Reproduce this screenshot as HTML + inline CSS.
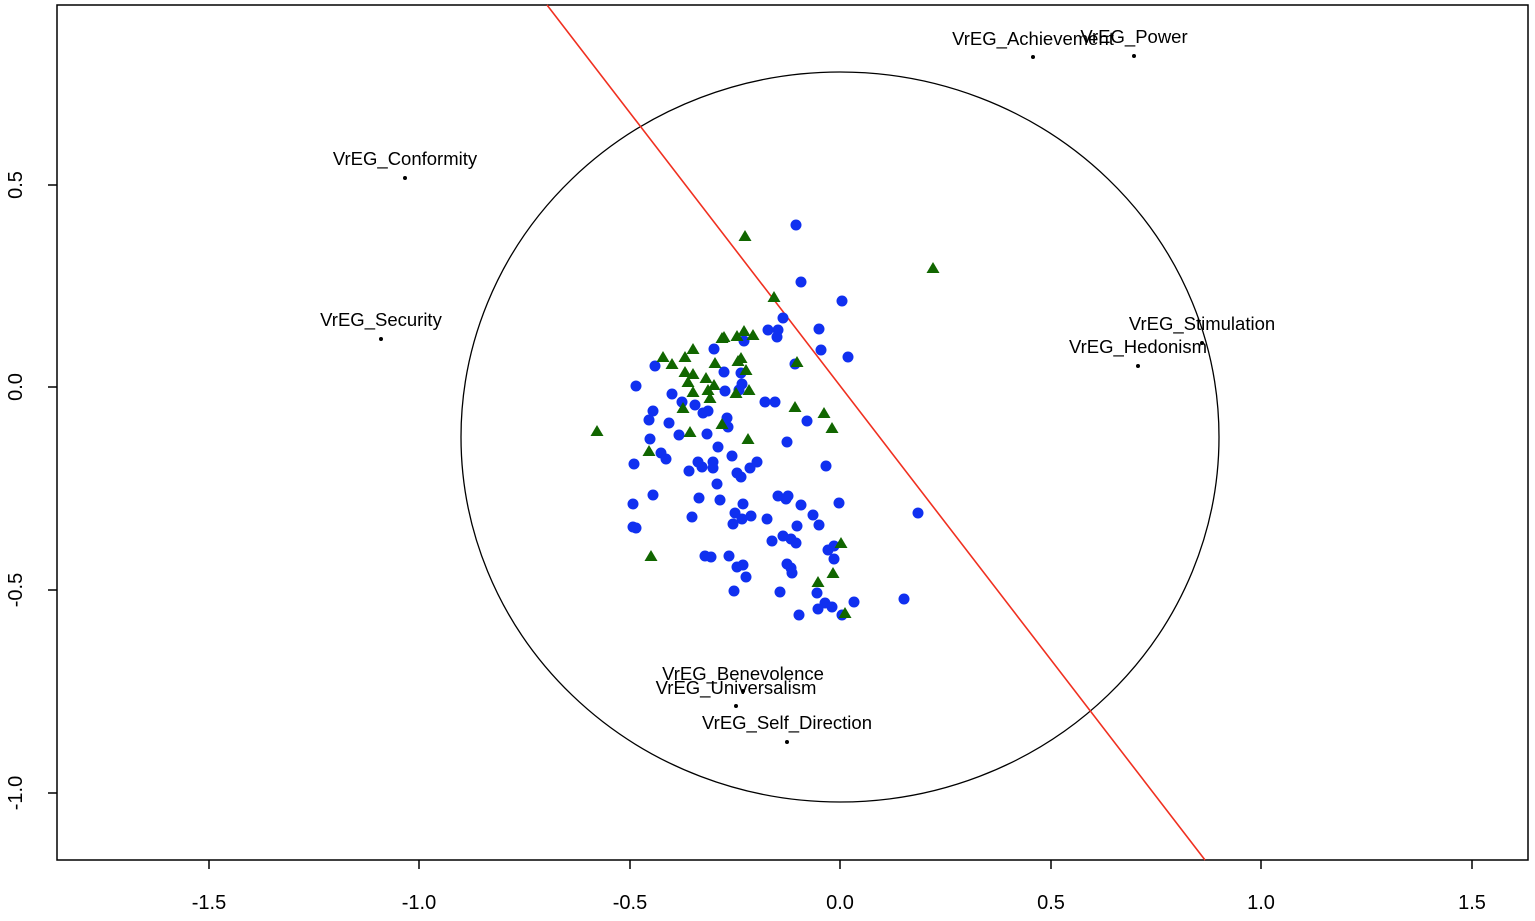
<!DOCTYPE html>
<html><head><meta charset="utf-8"><style>body{margin:0;background:#fff}</style></head><body>
<svg width="1535" height="916" xmlns="http://www.w3.org/2000/svg" font-family="Liberation Sans, sans-serif">
<rect x="0" y="0" width="1535" height="916" fill="#fff"/>
<rect x="57" y="5" width="1471" height="855" fill="none" stroke="#000" stroke-width="1.5"/>
<g stroke="#000" stroke-width="1.5">
<line x1="209" y1="860" x2="209" y2="869"/><line x1="419" y1="860" x2="419" y2="869"/><line x1="630" y1="860" x2="630" y2="869"/><line x1="840" y1="860" x2="840" y2="869"/><line x1="1051" y1="860" x2="1051" y2="869"/><line x1="1261" y1="860" x2="1261" y2="869"/><line x1="1472" y1="860" x2="1472" y2="869"/>
<line x1="48" y1="185" x2="57" y2="185"/><line x1="48" y1="387" x2="57" y2="387"/><line x1="48" y1="590" x2="57" y2="590"/><line x1="48" y1="793" x2="57" y2="793"/>
</g>
<g font-size="20" text-anchor="middle" fill="#000">
<text x="209" y="909">-1.5</text><text x="419" y="909">-1.0</text><text x="630" y="909">-0.5</text><text x="840" y="909">0.0</text><text x="1051" y="909">0.5</text><text x="1261" y="909">1.0</text><text x="1472" y="909">1.5</text>
<text transform="translate(22,185) rotate(-90)">0.5</text><text transform="translate(22,387) rotate(-90)">0.0</text><text transform="translate(22,590) rotate(-90)">-0.5</text><text transform="translate(22,793) rotate(-90)">-1.0</text>
</g>
<ellipse cx="840" cy="437" rx="379" ry="365" fill="none" stroke="#000" stroke-width="1.3"/>
<line x1="547" y1="5" x2="1205" y2="860" stroke="#f03020" stroke-width="1.6"/>
<g fill="#1030f0">
<circle cx="796" cy="225" r="5.5"/><circle cx="801" cy="282" r="5.5"/><circle cx="842" cy="301" r="5.5"/><circle cx="783" cy="318" r="5.5"/><circle cx="768" cy="330" r="5.5"/><circle cx="778" cy="330" r="5.5"/><circle cx="777" cy="337" r="5.5"/><circle cx="819" cy="329" r="5.5"/><circle cx="821" cy="350" r="5.5"/><circle cx="848" cy="357" r="5.5"/><circle cx="714" cy="349" r="5.5"/><circle cx="744" cy="341" r="5.5"/><circle cx="795" cy="364" r="5.5"/><circle cx="655" cy="366" r="5.5"/><circle cx="636" cy="386" r="5.5"/><circle cx="672" cy="394" r="5.5"/><circle cx="724" cy="372" r="5.5"/><circle cx="741" cy="373" r="5.5"/><circle cx="742" cy="384" r="5.5"/><circle cx="739" cy="390" r="5.5"/><circle cx="725" cy="391" r="5.5"/><circle cx="765" cy="402" r="5.5"/><circle cx="775" cy="402" r="5.5"/><circle cx="682" cy="402" r="5.5"/>
<circle cx="653" cy="411" r="5.5"/><circle cx="649" cy="420" r="5.5"/><circle cx="669" cy="423" r="5.5"/><circle cx="679" cy="435" r="5.5"/><circle cx="707" cy="434" r="5.5"/><circle cx="695" cy="405" r="5.5"/><circle cx="703" cy="413" r="5.5"/><circle cx="708" cy="411" r="5.5"/><circle cx="727" cy="418" r="5.5"/><circle cx="728" cy="427" r="5.5"/><circle cx="650" cy="439" r="5.5"/><circle cx="718" cy="447" r="5.5"/><circle cx="787" cy="442" r="5.5"/><circle cx="807" cy="421" r="5.5"/><circle cx="661" cy="453" r="5.5"/><circle cx="666" cy="459" r="5.5"/><circle cx="634" cy="464" r="5.5"/><circle cx="698" cy="462" r="5.5"/><circle cx="702" cy="467" r="5.5"/><circle cx="713" cy="462" r="5.5"/><circle cx="713" cy="468" r="5.5"/><circle cx="689" cy="471" r="5.5"/><circle cx="732" cy="456" r="5.5"/><circle cx="737" cy="473" r="5.5"/><circle cx="741" cy="477" r="5.5"/><circle cx="750" cy="468" r="5.5"/><circle cx="757" cy="462" r="5.5"/><circle cx="826" cy="466" r="5.5"/><circle cx="717" cy="484" r="5.5"/><circle cx="633" cy="504" r="5.5"/><circle cx="653" cy="495" r="5.5"/><circle cx="699" cy="498" r="5.5"/><circle cx="720" cy="500" r="5.5"/><circle cx="743" cy="504" r="5.5"/><circle cx="735" cy="513" r="5.5"/><circle cx="742" cy="519" r="5.5"/><circle cx="751" cy="516" r="5.5"/><circle cx="733" cy="524" r="5.5"/><circle cx="692" cy="517" r="5.5"/><circle cx="767" cy="519" r="5.5"/><circle cx="778" cy="496" r="5.5"/><circle cx="788" cy="496" r="5.5"/><circle cx="786" cy="499" r="5.5"/><circle cx="801" cy="505" r="5.5"/><circle cx="839" cy="503" r="5.5"/><circle cx="813" cy="515" r="5.5"/><circle cx="819" cy="525" r="5.5"/><circle cx="797" cy="526" r="5.5"/><circle cx="783" cy="536" r="5.5"/><circle cx="791" cy="539" r="5.5"/><circle cx="796" cy="543" r="5.5"/><circle cx="772" cy="541" r="5.5"/><circle cx="633" cy="527" r="5.5"/><circle cx="636" cy="528" r="5.5"/><circle cx="828" cy="550" r="5.5"/><circle cx="834" cy="546" r="5.5"/><circle cx="834" cy="559" r="5.5"/><circle cx="705" cy="556" r="5.5"/><circle cx="711" cy="557" r="5.5"/><circle cx="729" cy="556" r="5.5"/><circle cx="737" cy="567" r="5.5"/><circle cx="743" cy="565" r="5.5"/><circle cx="746" cy="577" r="5.5"/><circle cx="787" cy="564" r="5.5"/><circle cx="791" cy="568" r="5.5"/><circle cx="792" cy="573" r="5.5"/><circle cx="734" cy="591" r="5.5"/><circle cx="780" cy="592" r="5.5"/><circle cx="817" cy="593" r="5.5"/><circle cx="854" cy="602" r="5.5"/><circle cx="825" cy="603" r="5.5"/><circle cx="832" cy="607" r="5.5"/><circle cx="818" cy="609" r="5.5"/><circle cx="799" cy="615" r="5.5"/><circle cx="842" cy="615" r="5.5"/><circle cx="904" cy="599" r="5.5"/><circle cx="918" cy="513" r="5.5"/>
</g>
<g fill="#116600">
<path d="M745 230l6.5 11h-13z"/><path d="M774 291l6.5 11h-13z"/><path d="M797 356l6.5 11h-13z"/><path d="M933 262l6.5 11h-13z"/>
<path d="M724 331l6.5 11h-13z"/><path d="M737 330l6.5 11h-13z"/><path d="M744 325l6.5 11h-13z"/><path d="M753 329l6.5 11h-13z"/><path d="M722 332l6.5 11h-13z"/><path d="M693 343l6.5 11h-13z"/><path d="M685 351l6.5 11h-13z"/><path d="M663 351l6.5 11h-13z"/><path d="M672 358l6.5 11h-13z"/><path d="M715 357l6.5 11h-13z"/><path d="M741 352l6.5 11h-13z"/><path d="M738 355l6.5 11h-13z"/><path d="M746 364l6.5 11h-13z"/><path d="M685 366l6.5 11h-13z"/><path d="M693 368l6.5 11h-13z"/><path d="M706 372l6.5 11h-13z"/><path d="M688 376l6.5 11h-13z"/><path d="M714 379l6.5 11h-13z"/><path d="M708 384l6.5 11h-13z"/><path d="M693 386l6.5 11h-13z"/><path d="M736 387l6.5 11h-13z"/><path d="M749 384l6.5 11h-13z"/><path d="M710 392l6.5 11h-13z"/><path d="M683 402l6.5 11h-13z"/><path d="M795 401l6.5 11h-13z"/><path d="M824 407l6.5 11h-13z"/>
<path d="M597 425l6.5 11h-13z"/><path d="M690 426l6.5 11h-13z"/><path d="M722 418l6.5 11h-13z"/><path d="M748 433l6.5 11h-13z"/><path d="M649 445l6.5 11h-13z"/><path d="M832 422l6.5 11h-13z"/><path d="M841 537l6.5 11h-13z"/><path d="M833 567l6.5 11h-13z"/><path d="M818 576l6.5 11h-13z"/><path d="M651 550l6.5 11h-13z"/><path d="M845 607l6.5 11h-13z"/>
</g>
<g fill="#000"><circle cx="405" cy="178" r="2"/><circle cx="381" cy="339" r="2"/><circle cx="1033" cy="57" r="2"/><circle cx="1134" cy="56" r="2"/><circle cx="1202" cy="343" r="2"/><circle cx="1138" cy="366" r="2"/><circle cx="743" cy="691" r="2"/><circle cx="736" cy="706" r="2"/><circle cx="787" cy="742" r="2"/></g>
<g font-size="18.5" text-anchor="middle" fill="#000">
<text x="405" y="165">VrEG_Conformity</text><text x="381" y="326">VrEG_Security</text><text x="1033" y="45">VrEG_Achievement</text><text x="1134" y="43">VrEG_Power</text><text x="1202" y="330">VrEG_Stimulation</text><text x="1138" y="353">VrEG_Hedonism</text><text x="743" y="680">VrEG_Benevolence</text><text x="736" y="694">VrEG_Universalism</text><text x="787" y="729">VrEG_Self_Direction</text>
</g>
</svg>
</body></html>
